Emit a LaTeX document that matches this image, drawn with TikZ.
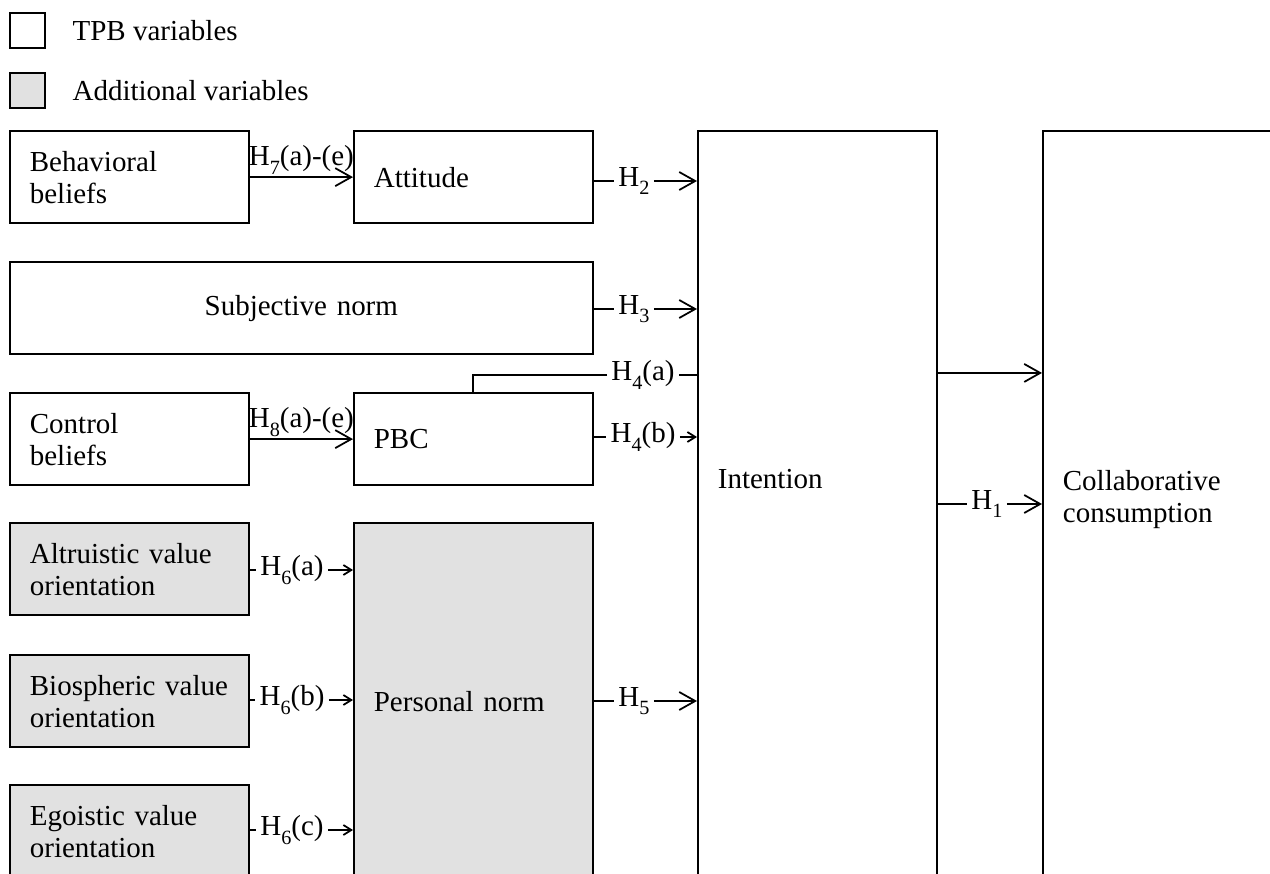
\documentclass[tikz,border=0pt]{standalone}
\usepackage{fontspec}
\setmainfont{Liberation Serif}
\usetikzlibrary{arrows.meta, calc, positioning}
\definecolor{addgray}{RGB}{225,225,225}
\newcommand{\hsub}[1]{\raisebox{-0.3em}{\fontsize{11.5}{11.5}\selectfont #1}}

\begin{document}
\begin{tikzpicture}[x=0.02cm, y=-0.02cm, line width=1pt,
    font=\fontsize{16.5}{18.2}\selectfont,
    var/.style={draw, anchor=north west, minimum width=4.78cm, minimum height=1.85cm,
        inner xsep=0.4cm, text width=3.98cm, align=left},
    addvar/.style={var, fill=addgray},
    bigbox/.style={draw, anchor=north west, minimum width=4.78cm, minimum height=16cm},
    legbox/.style={draw, anchor=north west, minimum size=0.7cm, inner sep=0},
    hyp/.style={inner sep=2pt},
    big/.style={-{Straight Barb[length=0.32cm, width=0.36cm]}},
    small/.style={-{Straight Barb[length=0.16cm, width=0.2cm]}}]

    \useasboundingbox (0,0) rectangle (1270,874);
    \clip (0,0) rectangle (1270,874);

    % Legend
    \node[legbox] (legtpb) at (9,12) {};
    \node[right=0.52cm of legtpb, inner sep=0] (legtpbtxt) {TPB variables};
    \node[legbox, fill=addgray] (legadd) at (9,72) {};
    \node[right=0.52cm of legadd, inner sep=0] (legaddtxt) {Additional variables};

    % TPB variables
    \node[var] (behav) at (9,130) {Behavioral\\beliefs};
    \node[var] (att) at (353,130) {Attitude};
    \node[var, minimum width=11.66cm, text width=10.86cm, align=center] (subj) at (9,261) {Subjective norm};
    \node[var] (ctrl) at (9,392) {Control\\beliefs};
    \node[var] (pbc) at (353,392) {PBC};

    % Additional variables
    \node[addvar] (altr) at (9,522) {Altruistic value\\orientation};
    \node[addvar] (bios) at (9,654) {Biospheric value\\orientation};
    \node[addvar] (ego) at (9,784) {Egoistic value\\orientation};
    \node[addvar, minimum height=7.16cm] (pn) at (353,522) {Personal norm};

    % Intention and behaviour
    \node[bigbox] (intent) at (697,130) {};
    \node[anchor=west, inner sep=0] (intenttxt) at (717,479) {Intention};
    \node[bigbox, minimum width=6cm] (collab) at (1042,130) {};
    \node[anchor=west, inner sep=0, align=left] (collabtxt) at (1062,500) {Collaborative\\consumption};

    % Beliefs
    \draw[big] (behav) -- (att) node[midway, above, inner sep=1pt] (h7) {H\hsub{7}(a)-(e)};
    \draw[big] (ctrl) -- (pbc) node[midway, above, inner sep=1pt] (h8) {H\hsub{8}(a)-(e)};

    % Paths to intention
    \node[hyp] (h2) at (634,181) {H\hsub{2}};
    \draw (att.east |- h2) -- (h2.west);
    \draw[big] (h2.east) -- (intent.west |- h2);

    \node[hyp] (h3) at (634,309) {H\hsub{3}};
    \draw (subj.east |- h3) -- (h3.west);
    \draw[big] (h3.east) -- (intent.west |- h3);

    \node[hyp] (h4a) at (643,375) {H\hsub{4}(a)};
    \draw (h4a.west) -| ([xshift=2.4cm]pbc.north west);
    \draw (h4a.east) -- (intent.west |- h4a);

    \node[hyp] (h4b) at (643,437) {H\hsub{4}(b)};
    \draw (pbc.east |- h4b) -- (h4b.west);
    \draw[small] (h4b.east) -- (intent.west |- h4b);

    \node[hyp] (h5) at (634,701) {H\hsub{5}};
    \draw (pn.east |- h5) -- (h5.west);
    \draw[big] (h5.east) -- (intent.west |- h5);

    % Value orientations
    \node[hyp] (h6a) at (292,570) {H\hsub{6}(a)};
    \draw (altr.east |- h6a) -- (h6a.west);
    \draw[small] (h6a.east) -- (pn.west |- h6a);

    \node[hyp] (h6b) at (292,700) {H\hsub{6}(b)};
    \draw (bios.east |- h6b) -- (h6b.west);
    \draw[small] (h6b.east) -- (pn.west |- h6b);

    \node[hyp] (h6c) at (292,830) {H\hsub{6}(c)};
    \draw (ego.east |- h6c) -- (h6c.west);
    \draw[small] (h6c.east) -- (pn.west |- h6c);

    % Intention to behaviour
    \draw[big] ([yshift=-4.86cm]intent.north east) -- ([yshift=-4.86cm]collab.north west);
    \node[hyp] (h1) at (987,504) {H\hsub{1}};
    \draw (intent.east |- h1) -- (h1.west);
    \draw[big] (h1.east) -- (collab.west |- h1);
\end{tikzpicture}
\end{document}
